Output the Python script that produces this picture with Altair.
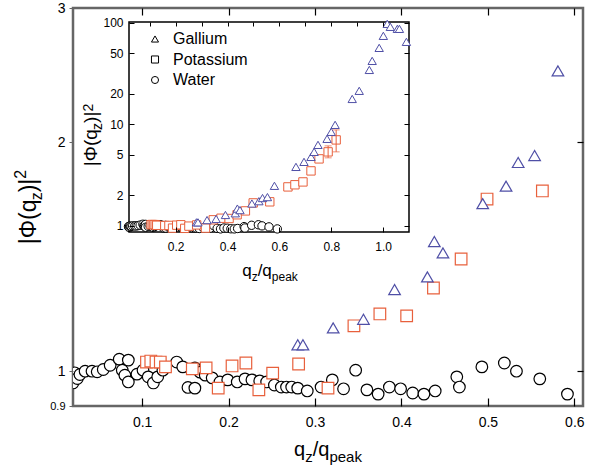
import altair as alt
import pandas as pd

FONT = "Liberation Sans"

# ---------------- data ----------------
series = ["Gallium", "Potassium", "Water"]
colors = ["#4f4fa6", "#e8603c", "#000000"]
shapes = ["triangle-up", "square", "circle"]

ga_x = [0.280, 0.286, 0.321, 0.356, 0.392, 0.430, 0.438, 0.448, 0.494, 0.521, 0.535, 0.554, 0.581,
        0.664, 0.695, 0.722, 0.734, 0.749, 0.784, 0.800, 0.815, 0.881, 0.908, 0.947, 0.958, 0.985,
        1.001, 1.016, 1.028, 1.055, 1.063, 1.090]
ga_y = [1.083, 1.083, 1.14, 1.17, 1.28, 1.33, 1.48, 1.43, 1.66, 1.75, 1.88, 1.92, 2.48,
        3.81, 4.27, 4.78, 5.36, 6.28, 7.20, 8.44, 9.89, 17.8, 21.4, 34.4, 42.2, 56.7,
        74.5, 97.8, 91.4, 87.3, 87.3, 65.0]

k_x = [0.105, 0.110, 0.116, 0.121, 0.127, 0.158, 0.174, 0.188, 0.204, 0.220, 0.235, 0.251, 0.281,
       0.315, 0.345, 0.375, 0.406, 0.437, 0.469, 0.499, 0.563,
       0.633, 0.660, 0.691, 0.722, 0.753, 0.788, 0.819]
k_y = [1.028, 1.031, 1.028, 1.028, 1.013, 1.007, 1.010, 0.950, 1.016, 1.025, 0.945, 0.994, 1.022,
       0.950, 1.147, 1.189, 1.182, 1.286, 1.404, 1.683, 1.725,
       2.42, 2.54, 2.71, 3.48, 4.57, 5.36, 7.03]

kerr_x = [0.788, 0.819]
kerr_lo = [4.68, 5.36]
kerr_hi = [6.14, 8.82]

w_x = [0.018, 0.020, 0.022, 0.025, 0.028, 0.034, 0.042, 0.048, 0.055, 0.063, 0.0735, 0.077, 0.080,
       0.084, 0.084, 0.094, 0.101, 0.107, 0.113, 0.118, 0.124, 0.140, 0.147, 0.153, 0.161, 0.161,
       0.167, 0.173, 0.181, 0.190, 0.199, 0.210, 0.219, 0.227, 0.236, 0.244, 0.253, 0.261, 0.267,
       0.273, 0.280, 0.291, 0.307, 0.320, 0.333, 0.347, 0.360, 0.373, 0.386, 0.399, 0.413, 0.426,
       0.439, 0.464, 0.467, 0.493, 0.519, 0.533, 0.560, 0.592]
w_y = [0.985, 0.965, 0.995, 0.978, 0.990, 1.000, 1.000, 0.998, 1.005, 1.018, 1.037, 1.003, 0.988,
       1.034, 0.968, 0.991, 1.003, 0.983, 0.965, 0.983, 1.003, 1.028, 1.013, 0.952, 1.010, 0.950,
       0.997, 0.988, 0.980, 0.968, 0.974, 0.968, 0.977, 0.974, 0.971, 0.968, 0.959, 0.953, 0.953,
       0.953, 0.950, 0.942, 0.953, 0.974, 0.948, 1.003, 0.945, 0.933, 0.953, 0.948, 0.936, 0.933,
       0.942, 0.983, 0.953, 1.013, 1.025, 1.000, 0.977, 0.933]

main_xticks = [0.1, 0.2, 0.3, 0.4, 0.5, 0.6]
main_yticks = [0.9, 1, 2, 3]
inset_xticks = [0.2, 0.4, 0.6, 0.8, 1.0]
inset_xminor = [0.1, 0.2, 0.3, 0.4, 0.5, 0.6, 0.7, 0.8, 0.9, 1.0]
inset_yticks = [1, 2, 5, 10, 20, 50, 100]

# ---------------- layout ----------------
W, H = 510, 398
IX0, IX1, IY0, IY1 = 56, 336, 14, 224
MAIN_XDOM, MAIN_YDOM = [0.02, 0.61], [0.9, 3]
INS_XDOM, INS_YDOM = [0.02, 1.1], [0.87, 102]
FRAME = "#666666"

frames = {
    "Gallium": pd.DataFrame({"x": ga_x, "y": ga_y}),
    "Potassium": pd.DataFrame({"x": k_x, "y": k_y}),
    "Water": pd.DataFrame({"x": w_x, "y": w_y}),
}
one = pd.DataFrame({"a": [0]})
AX = dict(grid=False, title=None, domain=False, zindex=1)


def mscale_x():
    return alt.Scale(domain=MAIN_XDOM, nice=False, zero=False)


def mscale_y():
    return alt.Scale(type="log", domain=MAIN_YDOM, nice=False)


def iscale_x():
    return alt.Scale(domain=INS_XDOM, nice=False, zero=False, range=[IX0, IX1])


def iscale_y():
    return alt.Scale(type="log", domain=INS_YDOM, nice=False, range=[IY1, IY0])


main_axes = {
    "Water": (
        alt.Axis(orient="bottom", values=main_xticks, format=".1f", ticks=False, labelFontSize=14,
                 labelPadding=9, **AX),
        alt.Axis(orient="left", values=main_yticks, format="~g", tickSize=4, tickColor=FRAME,
                 labelFontSize={"condition": {"test": "datum.value < 0.95", "value": 11}, "value": 14},
                 labelPadding=4, **AX),
    ),
    "Potassium": (  # inward ticks on the bottom edge
        alt.Axis(orient="top", offset=-H, values=main_xticks, labels=False, tickSize=8,
                 tickColor="black", tickWidth=1.2, **AX),
        None,
    ),
    "Gallium": (  # inward ticks on the top and right edges
        alt.Axis(orient="bottom", offset=-H, values=main_xticks, labels=False, tickSize=7,
                 tickColor="black", tickWidth=1.2, **AX),
        alt.Axis(orient="left", offset=-W, values=[1, 2], labels=False, tickSize=6,
                 tickColor="black", tickWidth=1.2, **AX),
    ),
}

inset_axes = {
    "Water": (
        alt.Axis(orient="bottom", offset=-(H - IY1), values=inset_xticks, format=".1f", ticks=False,
                 labelFontSize=12, labelPadding=9, **AX),
        alt.Axis(orient="left", offset=-IX0, values=inset_yticks, format="d", ticks=False,
                 labelFontSize=12, labelPadding=6, **AX),
    ),
    "Potassium": (
        alt.Axis(orient="top", offset=-IY1, values=inset_xticks, labels=False, tickSize=5,
                 tickColor="black", **AX),
        alt.Axis(orient="right", offset=-(W - IX0), values=inset_yticks, labels=False, tickSize=5,
                 tickColor="black", **AX),
    ),
    "Gallium": (
        alt.Axis(orient="bottom", offset=-(H - IY0), values=inset_xminor, labels=False, tickSize=4,
                 tickColor="black", **AX),
        alt.Axis(orient="left", offset=-IX1, values=inset_yticks, labels=False, tickSize=5,
                 tickColor="black", **AX),
    ),
}

layers = []

# main frame: rectangle spanning the main scale domains
frame_df = pd.DataFrame({"x0": [MAIN_XDOM[0]], "x1": [MAIN_XDOM[1]],
                         "y0": [MAIN_YDOM[0]], "y1": [MAIN_YDOM[1]]})
layers.append(
    alt.Chart(frame_df).mark_rect(fill="white", stroke=FRAME, strokeWidth=2.5)
    .encode(x=alt.X("x0:Q", scale=mscale_x(), axis=None), x2="x1:Q",
            y=alt.Y("y0:Q", scale=mscale_y(), axis=None), y2="y1:Q")
)

# main panel (draw water first, then potassium, then gallium)
for name in ["Water", "Potassium", "Gallium"]:
    i = series.index(name)
    xa, ya = main_axes[name]
    layers.append(
        alt.Chart(frames[name])
        .transform_filter(alt.datum.x <= MAIN_XDOM[1])
        .mark_point(shape=shapes[i], size=135, stroke=colors[i], strokeWidth=1.2, fill="white",
                    fillOpacity=1, opacity=1, clip=True)
        .encode(x=alt.X("x:Q", scale=mscale_x(), axis=xa),
                y=alt.Y("y:Q", scale=mscale_y(), axis=ya))
    )

# inset frame (white background + black border)
layers.append(
    alt.Chart(one).mark_rect(fill="white", stroke="black", strokeWidth=1.5)
    .encode(x=alt.value(IX0), x2=alt.value(IX1), y=alt.value(IY0), y2=alt.value(IY1))
)

# inset points
for name in ["Water", "Potassium", "Gallium"]:
    i = series.index(name)
    xa, ya = inset_axes[name]
    layers.append(
        alt.Chart(frames[name])
        .mark_point(shape=shapes[i], size=70, stroke=colors[i], strokeWidth=1, fill="white",
                    fillOpacity=1, opacity=1)
        .encode(x=alt.X("x:Q", scale=iscale_x(), axis=xa),
                y=alt.Y("y:Q", scale=iscale_y(), axis=ya))
    )

# potassium error bars in inset
err = pd.DataFrame({"x": kerr_x, "lo": kerr_lo, "hi": kerr_hi})
layers.append(
    alt.Chart(err).mark_rule(color=colors[1], strokeWidth=1)
    .encode(x=alt.X("x:Q", scale=iscale_x(), axis=None),
            y=alt.Y("lo:Q", scale=iscale_y(), axis=None), y2="hi:Q")
)
layers.append(
    alt.Chart(err).transform_fold(["lo", "hi"]).mark_tick(color=colors[1], orient="horizontal",
                                                          size=7, thickness=1)
    .encode(x=alt.X("x:Q", scale=iscale_x(), axis=None),
            y=alt.Y("value:Q", scale=iscale_y(), axis=None))
)

# inset legend
leg = pd.DataFrame({"name": series})
leg_y = alt.Y("name:N", scale=alt.Scale(domain=series, range=[31, 72], padding=0), axis=None)
layers.append(
    alt.Chart(leg).mark_point(size=50, stroke="black", strokeWidth=1, fill="white", fillOpacity=1)
    .encode(x=alt.value(82), y=leg_y,
            shape=alt.Shape("name:N", scale=alt.Scale(domain=series, range=shapes), legend=None))
)
layers.append(
    alt.Chart(leg).mark_text(align="left", baseline="middle", fontSize=16, font=FONT, color="black")
    .encode(x=alt.value(100), y=leg_y, text="name:N")
)

# ---------------- titles with sub/superscripts ----------------
ADV = {"q": 556, "z": 500, "/": 278, "p": 556, "e": 556, "a": 556, "k": 500, "|": 260,
       "(": 333, ")": 333, "2": 556, "Φ": 760}


def seg_w(t, s):
    return sum(ADV[c] for c in t) * s / 1000.0


def hlabel(parts, cx, base_y):
    total = sum(seg_w(t, s) for t, s, _ in parts)
    x = cx - total / 2
    out = []
    for t, s, dy in parts:
        out.append(alt.Chart(one).mark_text(text=t, font=FONT, fontSize=s, align="left",
                                            baseline="alphabetic", color="black")
                   .encode(x=alt.value(x), y=alt.value(base_y + dy)))
        x += seg_w(t, s)
    return out


def vlabel(parts, base_x, cy):
    total = sum(seg_w(t, s) for t, s, _ in parts)
    y = cy + total / 2
    out = []
    for t, s, dx in parts:
        out.append(alt.Chart(one).mark_text(text=t, font=FONT, fontSize=s, align="left",
                                            baseline="alphabetic", angle=270, color="black")
                   .encode(x=alt.value(base_x + dx), y=alt.value(y)))
        y -= seg_w(t, s)
    return out


layers += hlabel([("q", 20, 0), ("z", 15, 6), ("/q", 20, 0), ("peak", 15, 6)], 255, 448)
layers += vlabel([("|Φ(q", 23, 0), ("z", 16, 6), (")|", 23, 0), ("2", 16, -10)], -37, 199)
layers += hlabel([("q", 17, 0), ("z", 12, 5), ("/q", 17, 0), ("peak", 12, 5)], 197, 268)
layers += vlabel([("|Φ(q", 19, 0), ("z", 14, 5), (")|", 19, 0), ("2", 14, -4)], 24, 127)

chart = (
    alt.layer(*layers)
    .resolve_scale(x="independent", y="independent", shape="independent")
    .resolve_axis(x="independent", y="independent")
    .properties(width=W, height=H, autosize=alt.AutoSizeParams(type="none"),
                padding={"left": 73, "top": 8, "right": 19, "bottom": 61}, background="white")
    .configure_view(stroke=None)
    .configure_axis(labelFont=FONT, labelColor="black")
)

chart.save("out.html", embed_options={"renderer": "svg", "actions": False})
